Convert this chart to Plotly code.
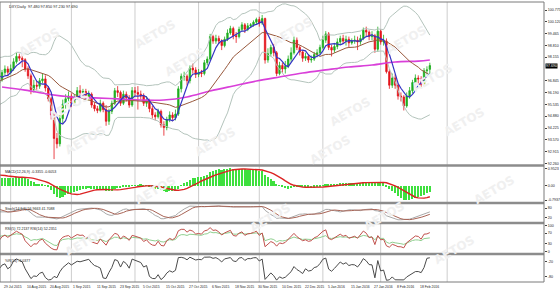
import numpy as np
import pandas as pd
import plotly.graph_objects as go

# ---------------- data (DXY daily) ----------------
# 32 bars of history before 29 Jul 2015 (off-screen, feed the indicators), then 149 visible bars
opens = [94.75, 94.90, 95.02, 94.70, 93.95, 94.10, 94.82, 95.60, 95.28, 95.52, 95.42, 95.30, 95.52, 96.08, 96.12, 95.98,
         96.10, 96.62, 96.40, 95.92, 95.98, 96.80, 96.70, 97.30, 97.60, 97.88, 98.00, 97.42, 97.60, 97.10, 97.20, 96.72,
         96.90, 97.30, 97.50, 97.32, 97.52, 97.90, 98.20, 98.10, 98.02, 97.50,
         97.12, 96.35, 96.60, 96.55, 96.85, 96.95, 96.45, 95.85, 94.95, 93.65,
         93.35, 94.75, 95.55, 95.85, 96.00, 95.60, 95.90, 96.30, 96.20, 96.25,
         95.95, 96.10, 95.50, 95.30, 95.20, 95.60, 95.25, 94.60, 95.15, 95.60,
         96.30, 96.20, 95.60, 96.10, 95.90, 95.50, 96.30, 96.20, 96.10, 96.00,
         95.60, 95.75, 95.30, 94.95, 94.85, 95.15, 94.40, 94.25, 94.70, 94.95,
         94.80, 95.00, 96.40, 97.10, 97.10, 96.85, 97.55, 97.45, 97.20, 97.30,
         97.25, 97.85, 98.05, 99.30, 99.05, 99.20, 99.05, 98.80, 99.15, 99.50,
         99.75, 99.35, 99.30, 99.70, 99.95, 99.70, 99.90, 99.95, 100.10, 100.25,
         100.05, 100.30, 98.00, 98.35, 98.70, 98.40, 97.25, 97.70, 97.50, 97.65,
         98.05, 98.40, 99.10, 98.70, 98.45, 98.10, 98.20, 98.00, 98.05, 98.30,
         98.40, 98.70, 99.10, 99.45, 98.70, 98.55, 98.75, 99.00, 99.20, 99.05,
         99.15, 98.95, 99.05, 99.10, 99.00, 99.20, 99.65, 99.55, 99.30, 99.35,
         98.60, 99.60, 99.00, 99.05, 97.35, 96.60, 97.00, 96.60, 96.00, 95.95,
         95.45, 96.00, 96.30, 96.75, 97.00, 96.95, 96.65, 97.40, 97.48]
highs = [95.15, 95.25, 95.20, 94.85, 94.35, 95.00, 95.75, 95.80, 95.70, 95.75, 95.95, 95.70, 96.25, 96.35, 96.25, 96.40,
         96.80, 96.75, 96.55, 96.35, 96.95, 97.05, 97.45, 97.80, 98.05, 98.20, 98.10, 97.85, 97.70, 97.45, 97.30, 97.10,
         97.45, 97.70, 97.65, 97.75, 98.10, 98.40, 98.35, 98.45, 98.10, 97.65,
         97.25, 96.90, 96.85, 97.00, 97.25, 97.15, 96.55, 95.95, 95.05, 93.95,
         94.95, 95.80, 96.10, 96.25, 96.15, 96.10, 96.50, 96.60, 96.40, 96.40,
         96.30, 96.20, 95.65, 95.45, 95.80, 95.70, 95.50, 95.30, 95.75, 96.45,
         96.55, 96.30, 96.30, 96.25, 96.05, 96.50, 96.50, 96.55, 96.30, 96.15,
         96.00, 95.85, 95.45, 95.10, 95.30, 95.25, 94.60, 94.85, 95.15, 95.10,
         95.25, 96.55, 97.25, 97.35, 97.20, 97.70, 97.80, 97.60, 97.50, 97.45,
         98.00, 98.20, 99.45, 99.40, 99.40, 99.35, 99.15, 99.30, 99.70, 99.90,
         99.85, 99.55, 99.85, 100.10, 100.05, 100.05, 100.05, 100.20, 100.35, 100.40,
         100.50, 100.35, 98.65, 98.85, 98.90, 98.50, 97.90, 97.85, 97.95, 98.25,
         98.70, 99.30, 99.25, 98.80, 98.55, 98.40, 98.30, 98.25, 98.45, 98.60,
         98.85, 99.35, 99.60, 99.55, 98.85, 98.95, 99.20, 99.35, 99.40, 99.35,
         99.30, 99.20, 99.35, 99.30, 99.40, 99.80, 99.85, 99.65, 99.60, 99.45,
         99.85, 99.70, 99.40, 99.20, 97.50, 97.25, 97.20, 96.70, 96.20, 96.05,
         96.20, 96.50, 96.90, 97.20, 97.15, 97.10, 97.55, 97.65, 97.85]
lows = [94.55, 94.70, 94.45, 93.50, 93.75, 93.95, 94.70, 95.10, 95.10, 95.25, 95.00, 95.15, 95.45, 95.85, 95.80, 95.70,
        95.95, 96.20, 95.75, 95.65, 95.90, 96.45, 96.55, 97.15, 97.45, 97.70, 97.30, 97.20, 96.95, 96.90, 96.55, 96.60,
        96.80, 97.15, 97.10, 97.20, 97.40, 97.80, 97.95, 97.60, 97.35, 96.95,
        96.10, 96.20, 96.35, 96.40, 96.70, 96.25, 95.70, 94.70, 92.50, 93.10,
        93.20, 94.50, 95.30, 95.55, 95.40, 95.45, 95.80, 95.95, 96.05, 95.80,
        95.75, 95.35, 95.15, 95.05, 95.10, 95.10, 94.35, 94.40, 95.00, 95.50,
        95.95, 95.45, 95.50, 95.70, 95.35, 95.40, 96.00, 95.25, 95.80, 95.45,
        95.40, 95.10, 94.75, 94.65, 94.75, 94.25, 93.80, 94.10, 94.55, 94.60,
        94.65, 94.90, 96.20, 96.85, 96.60, 96.70, 97.25, 97.00, 97.05, 97.05,
        97.15, 97.70, 97.95, 98.90, 98.90, 98.90, 98.55, 98.70, 99.05, 99.40,
        99.15, 98.95, 99.20, 99.60, 99.50, 99.60, 99.80, 99.85, 99.95, 99.85,
        99.95, 97.80, 97.85, 98.20, 98.20, 97.10, 97.15, 97.30, 97.25, 97.55,
        97.90, 98.30, 98.55, 98.25, 97.90, 97.95, 97.85, 97.85, 97.95, 98.15,
        98.30, 98.60, 98.95, 98.55, 98.20, 98.40, 98.60, 98.85, 98.90, 98.80,
        98.70, 98.85, 98.90, 98.55, 98.85, 99.10, 99.30, 99.10, 99.10, 98.40,
        98.45, 98.85, 98.80, 97.25, 96.40, 96.45, 96.40, 95.80, 95.70, 95.20,
        95.35, 95.85, 96.15, 96.60, 96.70, 96.50, 96.55, 97.20, 97.23]
closes = [94.90, 95.02, 94.70, 93.95, 94.10, 94.82, 95.60, 95.28, 95.52, 95.42, 95.30, 95.52, 96.08, 96.12, 95.98, 96.10,
          96.62, 96.40, 95.92, 95.98, 96.80, 96.70, 97.30, 97.60, 97.88, 98.00, 97.42, 97.60, 97.10, 97.20, 96.72, 96.90,
          97.30, 97.50, 97.32, 97.52, 97.90, 98.20, 98.10, 98.02, 97.50, 97.12,
          96.35, 96.60, 96.55, 96.85, 96.95, 96.45, 95.85, 94.95, 93.65, 93.35,
          94.75, 95.55, 95.85, 96.00, 95.60, 95.90, 96.30, 96.20, 96.25, 95.95,
          96.10, 95.50, 95.30, 95.20, 95.60, 95.25, 94.60, 95.15, 95.60, 96.30,
          96.20, 95.60, 96.10, 95.90, 95.50, 96.30, 96.20, 96.10, 96.00, 95.60,
          95.75, 95.30, 94.95, 94.85, 95.15, 94.40, 94.25, 94.70, 94.95, 94.80,
          95.00, 96.40, 97.10, 97.10, 96.85, 97.55, 97.45, 97.20, 97.30, 97.25,
          97.85, 98.05, 99.30, 99.05, 99.20, 99.05, 98.80, 99.15, 99.50, 99.75,
          99.35, 99.30, 99.70, 99.95, 99.70, 99.90, 99.95, 100.10, 100.25, 100.05,
          100.30, 98.00, 98.35, 98.70, 98.40, 97.25, 97.70, 97.50, 97.65, 98.05,
          98.40, 99.10, 98.70, 98.45, 98.10, 98.20, 98.00, 98.05, 98.30, 98.40,
          98.70, 99.10, 99.45, 98.70, 98.55, 98.75, 99.00, 99.20, 99.05, 99.15,
          98.95, 99.05, 99.10, 99.00, 99.20, 99.65, 99.55, 99.30, 99.35, 98.60,
          99.60, 99.00, 99.05, 97.35, 96.60, 97.00, 96.60, 96.00, 95.95, 95.45,
          96.00, 96.30, 96.75, 97.00, 96.95, 96.65, 97.40, 97.45, 97.69]
n_history = 32

# long moving average (magenta) at every 8th bar
ma_long_bars = [0, 8, 16, 24, 32, 40, 48, 56, 64, 72, 80, 88, 96, 104, 112, 120, 128, 136, 144, 148]
ma_long_vals = [96.50, 96.33, 96.10, 95.95, 95.90, 95.84, 95.78, 95.78, 95.95, 96.28, 96.56, 96.83, 97.06,
                97.28, 97.45, 97.61, 97.72, 97.89, 97.94, 98.00]

x_labels = ["29 Jul 2015", "10 Aug 2015", "20 Aug 2015", "1 Sep 2015", "11 Sep 2015", "23 Sep 2015",
            "5 Oct 2015", "15 Oct 2015", "27 Oct 2015", "6 Nov 2015", "18 Nov 2015", "30 Nov 2015",
            "10 Dec 2015", "22 Dec 2015", "5 Jan 2016", "15 Jan 2016", "27 Jan 2016", "8 Feb 2016", "18 Feb 2016"]
x_label_bars = [0, 8, 16, 24, 32, 40, 48, 56, 64, 72, 80, 88, 96, 104, 112, 120, 128, 136, 144]
month_start_bars = [3, 24, 46, 68, 89, 111, 131, 154]

price_ticks = [100.775, 100.120, 99.465, 98.810, 98.155, 96.845, 96.190, 95.535, 94.880, 94.225,
               93.570, 92.915, 92.260]

# ---------------- indicators ----------------
idx = np.arange(len(closes)) - n_history
c = pd.Series(closes)
h = pd.Series(highs)
l = pd.Series(lows)
sma5 = c.rolling(5).mean()
sma20 = c.rolling(20).mean()
sd20 = c.rolling(20).std(ddof=0)
bb_up = sma20 + 2 * sd20
bb_lo = sma20 - 2 * sd20
macd = c.ewm(span=12, adjust=False).mean() - c.ewm(span=26, adjust=False).mean()
sig = macd.rolling(9).mean()
hh = h.rolling(14).max()
ll = l.rolling(14).min()
st_k = (c - ll).rolling(5).sum() / (hh - ll).rolling(5).sum() * 100
st_d = st_k.rolling(5).mean()


def rsi(s, n):
    d = s.diff()
    up = d.clip(lower=0).ewm(alpha=1 / n, adjust=False).mean()
    dn = (-d.clip(upper=0)).ewm(alpha=1 / n, adjust=False).mean()
    return 100 - 100 / (1 + up / dn)


rsi_fast = rsi(c, 5)
rsi_slow = rsi(c, 14)
wpr = (hh - c) / (hh - ll) * -100

vis = idx >= 0
m_hi = float(max(macd[vis].max(), sig[vis].max()))
m_lo = float(min(macd[vis].min(), sig[vis].min()))

# ---------------- figure ----------------
fig = go.Figure()
FONT = "Liberation Sans"

# watermarks first (drawn beneath everything as text annotations are above, keep them very light)
fig.add_trace(go.Scatter(x=idx, y=bb_up, mode="lines", line=dict(color="#b4c4bc", width=1), yaxis="y"))
fig.add_trace(go.Scatter(x=idx, y=bb_lo, mode="lines", line=dict(color="#b4c4bc", width=1), yaxis="y"))
fig.add_trace(go.Scatter(x=ma_long_bars, y=ma_long_vals, mode="lines",
                         line=dict(color="#d93fd9", width=1.6, shape="spline"), yaxis="y"))
fig.add_trace(go.Candlestick(x=idx, open=opens, high=highs, low=lows, close=closes,
                             increasing=dict(line=dict(color="#1fae1f", width=0.8), fillcolor="#1fae1f"),
                             decreasing=dict(line=dict(color="#e3141c", width=0.8), fillcolor="#e3141c"),
                             yaxis="y"))
fig.add_trace(go.Scatter(x=idx, y=sma20, mode="lines", line=dict(color="#98583c", width=1), yaxis="y"))
fig.add_trace(go.Scatter(x=idx, y=sma5, mode="lines", line=dict(color="#3434c4", width=1.2), yaxis="y"))

fig.add_trace(go.Bar(x=idx, y=macd, marker=dict(color="#3ee03e", line=dict(width=0)), width=0.55, yaxis="y2"))
fig.add_trace(go.Scatter(x=idx, y=sig, mode="lines", line=dict(color="#dc2424", width=1.4), yaxis="y2"))

fig.add_trace(go.Scatter(x=idx, y=st_k, mode="lines", line=dict(color="#a8a8a8", width=1), yaxis="y3"))
fig.add_trace(go.Scatter(x=idx, y=st_d, mode="lines", line=dict(color="#a86456", width=1), yaxis="y3"))

fig.add_trace(go.Scatter(x=idx, y=rsi_slow, mode="lines", line=dict(color="#8fcf8f", width=1), yaxis="y4"))
fig.add_trace(go.Scatter(x=idx, y=rsi_fast, mode="lines", line=dict(color="#c0504c", width=1), yaxis="y4"))

fig.add_trace(go.Scatter(x=idx, y=wpr, mode="lines", line=dict(color="#4a4a4a", width=1), yaxis="y5"))

tf = dict(size=3.6, color="#222", family=FONT)


def yax(domain, rng, tv, tt):
    return dict(domain=domain, range=rng, side="right", tickvals=tv, ticktext=tt, ticks="outside",
                ticklen=2, tickcolor="#444", tickfont=tf, showgrid=False, zeroline=False,
                showline=False, fixedrange=True, anchor="x")


pad = (m_hi - m_lo) * 0.04
fig.update_layout(
    width=560, height=290, margin=dict(l=0, r=16, t=2, b=8),
    paper_bgcolor="white", plot_bgcolor="white", showlegend=False, bargap=0,
    xaxis=dict(range=[-0.7, 187.5], showticklabels=False, showgrid=False, zeroline=False,
               anchor="y5", rangeslider=dict(visible=False), fixedrange=True),
    yaxis=yax([0.4214, 1.0], [92.228, 101.219], price_ticks, [f"{v:.3f}" for v in price_ticks]),
    yaxis2=yax([0.2875, 0.4107], [m_lo - pad, m_hi + pad], [m_hi, 0, m_lo],
               [f"{m_hi:.4f}", "0.00", f"{m_lo:.4f}"]),
    yaxis3=yax([0.2161, 0.2768], [-3, 103], [80, 20], ["80", "20"]),
    yaxis4=yax([0.1054, 0.2054], [-3, 103], [100, 70, 30, 0], ["100", "70", "30", "0"]),
    yaxis5=yax([0.0, 0.0946], [-103, 3], [-20, -80], ["-20", "-80"]),
)

shapes = []
for b in month_start_bars:
    shapes.append(dict(type="line", xref="x", yref="paper", x0=b, x1=b, y0=0, y1=1,
                       line=dict(color="#cdcdcd", width=1), layer="below"))
for py in [165.5, 203.0, 223.0, 254.0]:
    yp = (282 - py) / 280
    shapes.append(dict(type="line", xref="paper", yref="paper", x0=0, x1=1, y0=yp, y1=yp,
                       line=dict(color="#8c8c8c", width=2.5)))
shapes.append(dict(type="rect", xref="paper", yref="paper", x0=0, x1=1, y0=0, y1=1,
                   line=dict(color="#7a7a7a", width=1)))
fig.update_layout(shapes=shapes)

ann = []
for px, py in [(14, 22), (130, 14), (160, 42), (292, 12), (350, 112), (432, 20), (458, 58), (490, 122),
               (44, 106), (60, 140), (215, 142), (330, 150), (130, 210), (270, 238), (410, 236), (520, 210),
               (60, 262), (480, 270)]:
    ann.append(dict(text="<b>AETOS</b>", x=px / 544, y=(282 - py) / 280, xref="paper", yref="paper",
                    showarrow=False, textangle=-30, font=dict(size=12, color="#f0f0f0", family="DejaVu Sans")))
for b, t in zip(x_label_bars, x_labels):
    ann.append(dict(text=t, x=b, y=0, xref="x", yref="paper", xanchor="left", yanchor="top", yshift=-1,
                    showarrow=False, font=dict(size=3.4, color="#222", family=FONT)))
last = len(closes) - 1
ann.append(dict(text=f"DXY,Daily  {opens[last]:.3f} {highs[last]:.3f} {lows[last]:.3f} {closes[last]:.3f}",
                x=0.012, y=1, xref="paper", yref="paper", xanchor="left", yanchor="top", yshift=-1,
                showarrow=False, font=dict(size=3.8, color="#222", family=FONT)))
ann.append(dict(text=f"{closes[last]:.3f}", x=1, y=closes[last], xref="paper", yref="y", xanchor="left",
                xshift=1, showarrow=False, bgcolor="#000", borderpad=0,
                font=dict(size=3.6, color="#fff", family=FONT)))
sub_titles = [
    (0.4107, f"MACD(12,26,9) {macd.iloc[-1]:.4f} {sig.iloc[-1]:.4f}"),
    (0.2768, f"Stoch(14,5,5) {st_k.iloc[-1]:.4f} {st_d.iloc[-1]:.4f}"),
    (0.2054, f"RSI(5) {rsi_fast.iloc[-1]:.4f} RSI(14) {rsi_slow.iloc[-1]:.4f}"),
    (0.0946, f"%R(14) {wpr.iloc[-1]:.4f}"),
]
for yp, t in sub_titles:
    ann.append(dict(text=t, x=0.006, y=yp, xref="paper", yref="paper", xanchor="left", yanchor="top",
                    yshift=-1, showarrow=False, font=dict(size=3.6, color="#222", family=FONT)))
fig.update_layout(annotations=ann)

fig.write_html("out.html")
